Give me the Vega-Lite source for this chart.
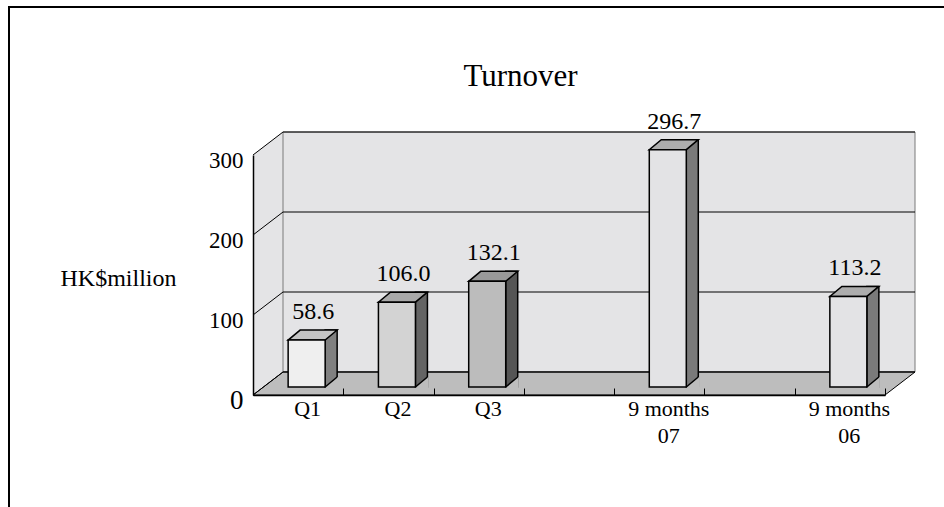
{
  "$schema": "https://vega.github.io/schema/vega-lite/v6.json",
  "width": 935,
  "height": 500,
  "autosize": {"type": "none"},
  "padding": {"left": 9, "top": 7, "right": 0, "bottom": 0},
  "background": "white",
  "view": {"stroke": "black", "strokeWidth": 2, "strokeDash": [935, 1435, 500], "fill": null},
  "title": {"text": "Turnover", "font": "'Liberation Serif', 'Times New Roman', 'DejaVu Serif', serif", "fontSize": 31, "fontWeight": "normal", "color": "black", "anchor": "middle", "frame": "group", "dx": 44, "offset": -86},
  "datasets": {
    "bars": [
      {"cat": "Q1", "value": 58.6},
      {"cat": "Q2", "value": 106.0},
      {"cat": "Q3", "value": 132.1},
      {"cat": "9 months|07", "value": 296.7},
      {"cat": "9 months|06", "value": 113.2}
    ],
    "grid": [
      {"value": 0},
      {"value": 100},
      {"value": 200},
      {"value": 300}
    ]
  },
  "encoding": {
    "x": {
      "field": "cat", "type": "nominal", "sort": null,
      "scale": {"type": "band", "domain": ["Q1", "Q2", "Q3", "gap1", "9 months|07", "gap2", "9 months|06"], "range": [244, 876], "paddingInner": 0, "paddingOuter": 0},
      "axis": {
        "title": null, "orient": "bottom", "offset": -112, "grid": false,
        "domainColor": "black", "domainWidth": 1.5,
        "ticks": true, "tickBand": "extent", "tickSize": -7, "tickColor": "black", "tickWidth": 1,
        "labelAngle": 0, "labelFont": "'Liberation Serif', 'Times New Roman', 'DejaVu Serif', serif", "labelFontSize": 22, "labelColor": "black",
        "labelLineHeight": 27, "labelPadding": 10, "labelOffset": 9, "labelBaseline": "top", "labelAlign": "center",
        "labelExpr": "indexof(datum.label, 'gap') === 0 ? '' : split(datum.label, '|')",
        "zindex": 2
      }
    },
    "y": {
      "field": "value", "type": "quantitative",
      "scale": {"domain": [0, 300], "range": [388, 148], "nice": false, "zero": true},
      "axis": {
        "title": "HK$million", "titleAngle": 0, "titleX": -135, "titleY": 271, "titleAlign": "center", "titleBaseline": "middle",
        "titleFont": "'Liberation Serif', 'Times New Roman', 'DejaVu Serif', serif", "titleFontSize": 24, "titleFontWeight": "normal", "titleColor": "black",
        "values": [0, 100, 200, 300], "ticks": false, "grid": false,
        "domainColor": "black", "domainWidth": 1.5,
        "labelFont": "'Liberation Serif', 'Times New Roman', 'DejaVu Serif', serif", "labelFontSize": {"condition": {"test": "datum.value === 0", "value": 27}, "value": 23},
        "labelColor": "black", "labelPadding": 10, "labelOffset": 5, "labelOverlap": false,
        "offset": -244, "zindex": 2
      }
    }
  },
  "layer": [
    {
      "data": {"name": "grid"},
      "transform": [{"filter": "datum.value === 0"}],
      "mark": {"type": "point", "shape": "M -45.14 0 L -45.14 -240 L -15.14 -263 L -15.14 -23 Z", "size": 4, "filled": true, "fill": "#e4e4e6", "strokeWidth": 0, "opacity": 1},
      "encoding": {"x": {"datum": "Q1"}}
    },
    {
      "data": {"name": "grid"},
      "transform": [{"filter": "datum.value === 0"}],
      "mark": {"type": "point", "shape": "M -15.14 -23 L 616.86 -23 L 616.86 -263 L -15.14 -263 Z", "size": 4, "filled": true, "fill": "#e4e4e6", "stroke": "#7a7a7a", "strokeWidth": 1, "opacity": 1},
      "encoding": {"x": {"datum": "Q1"}}
    },
    {
      "data": {"name": "grid"},
      "transform": [{"filter": "datum.value === 0"}],
      "mark": {"type": "point", "shape": "M -45.14 0 L 586.86 0 L 616.86 -23 L -15.14 -23 Z", "size": 4, "filled": true, "fill": "#bdbdbd", "stroke": "black", "strokeWidth": 1, "opacity": 1},
      "encoding": {"x": {"datum": "Q1"}}
    },
    {
      "data": {"name": "grid"},
      "mark": {"type": "point", "shape": "M -45.14 0 L -15.14 -23 L 616.86 -23", "size": 4, "filled": false, "fill": null, "stroke": "black", "strokeWidth": 1, "opacity": 1},
      "encoding": {"x": {"datum": "Q1"}}
    },
    {
      "data": {"name": "bars"},
      "layer": [
        {
          "mark": {"type": "bar", "width": 12, "xOffset": 33, "yOffset": -18, "y2Offset": -8, "stroke": "black", "strokeWidth": 1.5, "opacity": 1},
          "encoding": {
            "y2": {"datum": 0},
            "fill": {"field": "cat", "type": "nominal", "legend": null,
              "scale": {"domain": ["Q1", "Q2", "Q3", "9 months|07", "9 months|06"], "range": ["#808080", "#646464", "#555555", "#7a7a7a", "#7a7a7a"]}}
          }
        },
        {
          "mark": {"type": "point", "shape": "M 27 -8 L 39 -18 L 40 -18 L 40 -6.9 L 27 -6.9 Z", "size": 4, "filled": true, "fill": "#bdbdbd", "strokeWidth": 0, "opacity": 1},
          "encoding": {"y": {"datum": 0}}
        },
        {
          "mark": {"type": "point", "shape": "M 27 -8 L 39 -18", "size": 4, "filled": false, "fill": null, "stroke": "black", "strokeWidth": 1.5, "opacity": 1},
          "encoding": {"y": {"datum": 0}}
        },
        {
          "mark": {"type": "point", "shape": "M -10 -8 L 27 -8 L 39 -18 L 2 -18 Z", "size": 4, "filled": true, "stroke": "black", "strokeWidth": 1.5, "opacity": 1},
          "encoding": {
            "fill": {"field": "cat", "type": "nominal", "legend": null,
              "scale": {"domain": ["Q1", "Q2", "Q3", "9 months|07", "9 months|06"], "range": ["#c4c4c4", "#a9a9a9", "#999999", "#adadad", "#adadad"]}}
          }
        },
        {
          "mark": {"type": "bar", "width": 37, "xOffset": 8.5, "yOffset": -8, "y2Offset": -8, "stroke": "black", "strokeWidth": 1.5, "opacity": 1},
          "encoding": {
            "y2": {"datum": 0},
            "fill": {"field": "cat", "type": "nominal", "legend": null,
              "scale": {"domain": ["Q1", "Q2", "Q3", "9 months|07", "9 months|06"], "range": ["#efefef", "#d3d3d3", "#bcbcbc", "#e3e3e5", "#e3e3e5"]}}
          }
        },
        {
          "mark": {"type": "text", "font": "'Liberation Serif', 'Times New Roman', 'DejaVu Serif', serif", "fontSize": 24, "color": "black", "align": "center", "baseline": "alphabetic", "xOffset": 15, "yOffset": -29},
          "encoding": {"text": {"field": "value", "type": "quantitative", "format": ".1f"}}
        }
      ],
      "resolve": {"scale": {"fill": "independent"}}
    }
  ],
  "resolve": {"scale": {"fill": "independent"}}
}
